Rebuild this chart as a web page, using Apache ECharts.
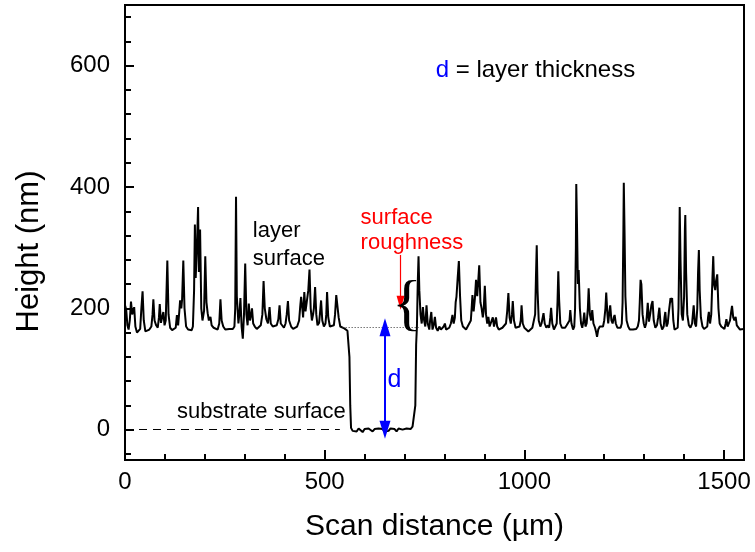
<!DOCTYPE html>
<html>
<head>
<meta charset="utf-8">
<script src="https://cdn.jsdelivr.net/npm/echarts@6/dist/echarts.min.js"></script>
<style>html,body{margin:0;padding:0;background:#fff}#c{width:755px;height:552px}</style>
</head>
<body>
<div id="c"></div>
<script>
// ---- data ----
const xMajorStep = 500;          // labelled ticks 0, 500, 1000, 1500
const xMinorStep = 100;
const yMajorTicks = [0, 200, 400, 600];
const yMinorTicks = [-40, 40, 80, 120, 160, 240, 280, 320, 360, 440, 480, 520, 560, 640, 680];

// profile: [scan distance (µm), height (nm)]
const profile = [
[0,205],[3,198],[6,172],[9,165],[12,180],[15,211],[18,190],[21,196],[23,202],[26,170],[30,160],[34,158],[38,166],[41,200],[44,228],[47,180],[51,162],[56,160],[61,165],[66,170],[69,190],[71,215],[74,180],[78,172],[82,168],[85,185],[87,207],[90,176],[93,185],[96,194],[99,172],[102,180],[106,279],[109,190],[113,168],[118,164],[123,162],[127,168],[130,189],[133,172],[136,195],[138,213],[141,200],[143,215],[146,279],[149,200],[153,170],[158,165],[163,162],[167,164],[170,170],[173,230],[175,338],[177,250],[180,300],[183,367],[185,260],[188,330],[191,200],[194,180],[198,196],[201,286],[204,210],[207,192],[210,180],[214,186],[217,172],[222,168],[227,165],[232,165],[236,175],[239,215],[242,180],[246,170],[251,165],[256,162],[261,166],[266,168],[270,166],[274,170],[276,200],[278,384],[280,220],[284,175],[287,195],[289,217],[292,170],[295,150],[298,190],[301,274],[304,190],[307,172],[310,208],[313,180],[316,190],[318,200],[321,175],[325,170],[330,166],[335,168],[340,172],[344,190],[347,245],[350,200],[354,182],[358,175],[362,202],[365,175],[370,170],[375,168],[380,172],[384,182],[387,205],[390,175],[394,172],[398,168],[402,175],[405,190],[408,212],[411,180],[416,170],[421,166],[426,168],[431,170],[436,180],[439,205],[441,219],[444,200],[446,185],[449,227],[452,195],[455,210],[459,230],[462,264],[465,200],[468,180],[471,190],[473,200],[476,235],[479,190],[482,172],[486,176],[488,190],[491,213],[494,180],[498,170],[502,175],[504,190],[506,227],[509,185],[513,170],[518,168],[523,172],[526,190],[529,222],[532,225],[535,185],[539,170],[544,168],[549,167],[554,168],[557,163],[560,162],[562,120],[564,40],[566,3],[570,-2],[575,1],[580,-3],[585,2],[590,0],[595,-4],[600,1],[605,-2],[610,2],[615,-1],[620,-3],[625,1],[630,-2],[635,2],[640,-1],[645,1],[650,-3],[655,0],[660,-2],[665,2],[670,-1],[675,1],[680,-3],[685,2],[690,-1],[695,0],[700,-2],[705,2],[710,-1],[715,1],[720,5],[724,2],[727,40],[729,140],[731,170],[733,240],[735,286],[737,230],[740,190],[743,175],[746,202],[749,180],[752,170],[755,205],[758,175],[762,165],[764,180],[767,194],[770,165],[773,172],[776,186],[779,168],[783,163],[787,170],[791,165],[795,168],[798,170],[801,175],[804,165],[808,163],[812,168],[816,175],[818,182],[820,189],[823,175],[826,185],[828,210],[830,219],[833,250],[836,278],[839,220],[842,180],[846,170],[850,168],[854,165],[858,170],[862,168],[866,180],[868,200],[870,222],[873,195],[876,215],[879,247],[882,220],[885,250],[887,271],[890,210],[893,200],[896,185],[898,195],[901,237],[904,190],[907,175],[910,186],[913,170],[917,168],[921,185],[924,170],[927,172],[929,185],[932,170],[936,165],[940,162],[945,168],[950,170],[954,175],[957,195],[960,225],[963,185],[966,175],[969,190],[971,212],[974,180],[978,168],[983,165],[988,170],[991,180],[993,205],[996,175],[1000,168],[1005,165],[1010,162],[1015,165],[1020,168],[1024,170],[1027,190],[1029,250],[1031,304],[1033,230],[1036,180],[1040,170],[1043,175],[1046,185],[1048,192],[1051,175],[1055,168],[1059,172],[1062,168],[1065,185],[1067,201],[1070,175],[1074,165],[1078,168],[1081,175],[1083,210],[1085,261],[1087,215],[1090,175],[1094,168],[1098,165],[1102,168],[1106,172],[1110,170],[1113,180],[1115,197],[1118,175],[1122,165],[1125,170],[1127,200],[1129,300],[1130,405],[1132,330],[1134,240],[1136,263],[1139,200],[1142,175],[1145,168],[1148,180],[1150,193],[1153,170],[1156,175],[1159,200],[1161,233],[1164,190],[1167,180],[1170,197],[1173,175],[1177,168],[1180,160],[1182,153],[1185,165],[1189,170],[1193,168],[1197,170],[1200,180],[1203,200],[1205,226],[1208,190],[1210,175],[1213,195],[1215,205],[1218,180],[1221,175],[1224,185],[1226,189],[1229,175],[1233,168],[1237,165],[1241,168],[1244,175],[1246,210],[1248,330],[1249,407],[1251,320],[1253,220],[1256,180],[1260,170],[1264,165],[1268,162],[1272,165],[1276,168],[1280,166],[1284,170],[1287,180],[1289,210],[1291,247],[1293,240],[1296,190],[1299,175],[1302,168],[1305,175],[1307,190],[1309,209],[1312,178],[1315,190],[1318,205],[1321,212],[1324,180],[1328,168],[1332,172],[1335,185],[1338,201],[1341,175],[1345,165],[1349,170],[1351,185],[1353,194],[1356,170],[1359,175],[1362,195],[1366,217],[1368,210],[1370,217],[1373,180],[1376,165],[1380,162],[1384,168],[1386,200],[1388,300],[1389,367],[1391,280],[1394,190],[1397,180],[1400,220],[1402,330],[1403,354],[1405,260],[1408,190],[1412,172],[1416,168],[1420,175],[1422,190],[1424,205],[1427,175],[1430,170],[1433,200],[1435,260],[1437,296],[1439,230],[1442,185],[1446,170],[1450,166],[1454,168],[1458,170],[1460,185],[1462,194],[1465,175],[1468,190],[1471,250],[1473,286],[1475,240],[1478,230],[1480,245],[1483,256],[1486,200],[1489,175],[1493,170],[1497,168],[1501,166],[1504,175],[1506,182],[1509,170],[1512,168],[1515,180],[1518,195],[1520,204],[1523,185],[1526,180],[1529,186],[1532,172],[1536,170],[1540,165],[1544,168],[1548,166],[1550,167]
];

// annotation anchors (data coordinates)
const substrateLine = [[0, 0], [538, 0]];
const layerLevelLine = [[545, 169], [735, 169]];
const thicknessArrow = [[651, 0], [651, 169]];
const roughnessArrow = [[690, 288], [690, 209]];

const FONT = "'Liberation Sans', Arial, sans-serif";
const X_MIN = 0, X_MAX = 1550, Y_MIN = -50, Y_MAX = 700;

const chart = echarts.init(document.getElementById('c'), null, {renderer: 'canvas'});

const blackLine = {color: '#000', width: 2};

chart.setOption({
  animation: false,
  backgroundColor: '#fff',
  grid: {left: 125, right: 11, top: 5, bottom: 92, show: true, borderColor: '#000', borderWidth: 2, backgroundColor: 'transparent'},
  xAxis: [
    {type: 'value', min: X_MIN, max: X_MAX, interval: xMajorStep, position: 'bottom',
     name: 'Scan distance (µm)', nameLocation: 'middle', nameGap: 52,
     nameTextStyle: {fontFamily: FONT, fontSize: 30, color: '#000'},
     axisLine: {show: true, onZero: false, lineStyle: blackLine},
     axisTick: {show: true, inside: true, length: 10, lineStyle: {color: '#000', width: 2}},
     axisLabel: {showMaxLabel: false, fontFamily: FONT, fontSize: 24, color: '#000', margin: 10,
                 formatter: v => (v % xMajorStep === 0 ? String(v) : '')},
     splitLine: {show: false}, z: 5},
    {type: 'value', min: X_MIN, max: X_MAX, interval: xMinorStep, position: 'bottom',
     axisLine: {show: false, onZero: false},
     axisTick: {show: true, inside: true, length: 6, lineStyle: {color: '#000', width: 2}},
     axisLabel: {show: false}, splitLine: {show: false}, z: 5}
  ],
  yAxis: [
    {type: 'value', min: Y_MIN, max: Y_MAX, position: 'left',
     name: 'Height (nm)', nameLocation: 'middle', nameGap: 80,
     nameTextStyle: {fontFamily: FONT, fontSize: 31, color: '#000', padding: [0, 38, 0, 0]},
     axisLine: {show: true, onZero: false, lineStyle: blackLine},
     axisTick: {show: true, inside: true, length: 9, customValues: yMajorTicks, lineStyle: {color: '#000', width: 2}},
     axisLabel: {customValues: yMajorTicks, fontFamily: FONT, fontSize: 24, color: '#000', margin: 15},
     splitLine: {show: false}, z: 5},
    {type: 'value', min: Y_MIN, max: Y_MAX, position: 'left',
     axisLine: {show: false, onZero: false},
     axisTick: {show: true, inside: true, length: 6, customValues: yMinorTicks, lineStyle: {color: '#000', width: 2}},
     axisLabel: {show: false}, splitLine: {show: false}, z: 5}
  ],
  series: [{
    type: 'line', xAxisIndex: 0, yAxisIndex: 0,
    data: profile, showSymbol: false, symbol: 'none',
    lineStyle: {color: '#000', width: 2}, z: 3,
    markLine: {
      silent: true, animation: false, label: {show: false},
      data: [
        [{coord: substrateLine[0], symbol: 'none', lineStyle: {color: '#000', width: 1, type: [8, 6]}}, {coord: substrateLine[1], symbol: 'none'}],
        [{coord: layerLevelLine[0], symbol: 'none', lineStyle: {color: '#333', width: 1, type: [1, 2]}}, {coord: layerLevelLine[1], symbol: 'none'}],
        [{coord: thicknessArrow[0], symbol: 'triangle', symbolSize: [11, 18], lineStyle: {color: '#0000ff', width: 2, type: 'solid'}, itemStyle: {color: '#0000ff'}},
         {coord: thicknessArrow[1], symbol: 'triangle', symbolSize: [11, 18], itemStyle: {color: '#0000ff'}}],
        [{coord: roughnessArrow[0], symbol: 'none', lineStyle: {color: '#ff0000', width: 1.2, type: 'solid'}, itemStyle: {color: '#ff0000'}},
         {coord: roughnessArrow[1], symbol: 'triangle', symbolSize: [8, 14], itemStyle: {color: '#ff0000'}}]
      ]
    }
  }]
});

function px(pt) { return chart.convertToPixel({xAxisIndex: 0, yAxisIndex: 0}, pt); }

const textItems = [
  {pt: [320, 327], text: 'layer', color: '#000', align: 'left', size: 22},
  {pt: [320, 282], text: 'surface', color: '#000', align: 'left', size: 22},
  {pt: [553, 29], text: 'substrate surface', color: '#000', align: 'right', size: 22},
  {pt: [590, 349], text: 'surface', color: '#ff0000', align: 'left', size: 22},
  {pt: [590, 307], text: 'roughness', color: '#ff0000', align: 'left', size: 22},
  {pt: [675, 81], text: 'd', color: '#0000ff', align: 'center', size: 25}
];

const graphics = textItems.map(t => {
  const p = px(t.pt);
  return {type: 'text', x: p[0], y: p[1], z: 10,
    style: {text: t.text, fill: t.color, font: t.size + 'px ' + FONT, textAlign: t.align, textVerticalAlign: 'middle'}};
});

// curly brace
const bp = px([706, 202]);
graphics.push({type: 'text', x: bp[0], y: bp[1], z: 10,
  style: {text: '{', fill: '#000', font: '62px "Liberation Serif", serif', textAlign: 'center', textVerticalAlign: 'middle'}});

// note "d = layer thickness"
const lp = px([778, 592]);
graphics.push({type: 'text', x: lp[0], y: lp[1], z: 10,
  style: {rich: {b: {fill: '#0000ff', font: '24px ' + FONT}, k: {fill: '#000', font: '24px ' + FONT}},
          text: '{b|d}{k| = layer thickness}', textAlign: 'left', textVerticalAlign: 'middle'}});

chart.setOption({graphic: graphics});
</script>
</body>
</html>
